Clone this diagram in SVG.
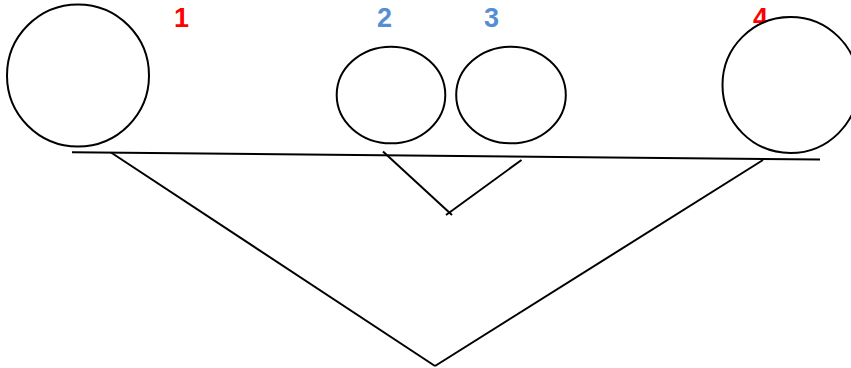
<svg xmlns="http://www.w3.org/2000/svg" width="851" height="368" viewBox="0 0 851 368">
<style>
.shape{fill:#fff;stroke:#000;stroke-width:2}
.conn line{stroke:#000;stroke-width:2;stroke-linecap:butt}
.lbl{font-family:"Liberation Sans",Arial,sans-serif;font-weight:bold;font-size:27px}
.red{fill:#ff0000}
.blue{fill:#558ed5}
</style>
<rect width="851" height="368" fill="#fff"/>
<g id="connectors" class="conn">
<line x1="72" y1="152.3" x2="820" y2="159.5"/>
<line x1="111" y1="152.5" x2="435" y2="366"/>
<line x1="435" y1="366" x2="763" y2="160"/>
<line x1="383" y1="151.5" x2="452" y2="215"/>
<line x1="521.5" y1="160" x2="446" y2="215"/>
</g>
<g id="node1">
<circle class="shape" cx="78" cy="75.5" r="71"/>
<text class="lbl red" x="174" y="27">1</text>
</g>
<g id="node2">
<ellipse class="shape" cx="391" cy="95" rx="54.3" ry="48.3"/>
<text class="lbl blue" x="377" y="27">2</text>
</g>
<g id="node3">
<ellipse class="shape" cx="511" cy="95" rx="54.8" ry="48.3"/>
<text class="lbl blue" x="484" y="27">3</text>
</g>
<g id="node4">
<text class="lbl red" x="753" y="27">4</text>
<circle class="shape" cx="790.5" cy="85" r="68"/>
</g>
</svg>
